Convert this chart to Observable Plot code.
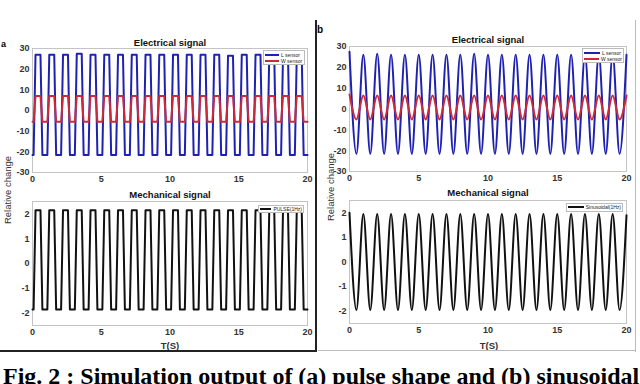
<!DOCTYPE html>
<html><head><meta charset="utf-8">
<script src="https://cdn.jsdelivr.net/npm/d3@7"></script>
<script src="https://cdn.jsdelivr.net/npm/@observablehq/plot@0.6"></script>
<style>
html,body{margin:0;padding:0;background:#fff;}
#root{position:relative;width:640px;height:384px;overflow:hidden;font-family:"Liberation Sans",Arial,sans-serif;}
.abs{position:absolute;}
.lg{position:absolute;background:#fff;border:1px solid #bbb;font-size:5px;line-height:6px;color:#222;padding:0 1px;box-sizing:border-box;}
.lg div{display:flex;align-items:center;white-space:nowrap;}
.lg span.sw{display:inline-block;height:2px;margin-right:2px;}
.ylab{position:absolute;font-size:9.5px;color:#333;transform:translate(-50%,-50%) rotate(-90deg);white-space:nowrap;}
.xlab{position:absolute;font-size:9.5px;color:#333;transform:translate(-50%,-50%);font-weight:bold;}
</style></head>
<body><div id="root"></div>
<script>
// ---- data ----
const xTicks = [0, 5, 10, 15, 20];
const yTicksElec = [-30, -20, -10, 0, 10, 20, 30];
const yTicksMech = [-2, -1, 0, 1, 2];
const cycleStart = [0,1,2,3,4,5,6,7,8,9,10,11,12,13,14,15,16,17,18,19];
// (a) pulse levels per cycle
const pulseLHigh = [27,27,27,27.5,27,27,27,27,27,27,27,27,27,27,26.5,27,27,27,27,27];
const pulseLLow  = [-21.5,-21.5,-21.5,-21.5,-21.5,-21.5,-21.5,-21.5,-21.5,-21.5,-21.5,-21.5,-21.5,-21.5,-21.5,-21.5,-21.5,-21.5,-21.5,-21.5];
const pulseWHigh = [7,7,7,7,7,7,7,7,7,7,7,7,7,7,7,7,7,7,7,7];
const pulseWLow  = [-5.5,-5.5,-5.5,-5.5,-5.5,-5.5,-5.5,-5.5,-5.5,-5.5,-5.5,-5.5,-5.5,-5.5,-5.5,-5.5,-5.5,-5.5,-5.5,-5.5];
const pulseMHigh = [2.15,2.15,2.15,2.15,2.15,2.15,2.15,2.15,2.15,2.15,2.15,2.15,2.15,2.15,2.15,2.15,2.15,2.15,2.15,2.15];
const pulseMLow  = [-1.85,-1.85,-1.85,-1.85,-1.85,-1.85,-1.85,-1.85,-1.85,-1.85,-1.85,-1.85,-1.85,-1.85,-1.85,-1.85,-1.85,-1.85,-1.85,-1.85];
// (b) sinusoid extremes
const peakT   = [0,1,2,3,4,5,6,7,8,9,10,11,12,13,14,15,16,17,18,19,20];
const troughT = [0.5,1.5,2.5,3.5,4.5,5.5,6.5,7.5,8.5,9.5,10.5,11.5,12.5,13.5,14.5,15.5,16.5,17.5,18.5,19.5];
const sinLPeak   = [27.5,26,26.5,26,26,26,26,26,26,26.5,26,26,26,26,26,26,26,26,26,26,26];
const sinLTrough = [-21.5,-21.5,-21.5,-21.5,-21.5,-21.5,-21.5,-21.5,-21.5,-21.5,-21.5,-21.5,-21.5,-21.5,-21.5,-21.5,-21.5,-21.5,-21.5,-21.5];
const sinWPeak   = [7,6.5,6.5,6.5,6.5,6.5,6.5,6.5,6.5,6.5,6.5,6.5,6.5,6.5,6.5,6.5,6.5,6.5,6.5,6.5,6.5];
const sinWTrough = [-5,-5,-5,-5,-5,-5,-5,-5,-5,-5,-5,-5,-5,-5,-5,-5,-5,-5,-5,-5];
const sinMPeak   = [2,1.95,1.95,1.95,1.95,1.95,1.95,1.95,1.95,1.95,1.95,1.95,1.95,1.95,1.95,1.95,1.95,1.95,1.95,1.95,1.9];
const sinMTrough = [-1.95,-1.95,-1.95,-1.95,-1.95,-1.95,-1.95,-1.95,-1.95,-1.95,-1.95,-1.95,-1.95,-1.95,-1.95,-1.95,-1.95,-1.95,-1.95,-1.95];

const BLUE = "#1f22b0", RED = "#cc2a3a", BLACK = "#111";
const tEnd = xTicks[xTicks.length - 1];

// pulse shape: rise / fall timing inside each 1 s cycle
const shape = [0.08, 0.22, 0.58, 0.72];
function pulse(high, low) {
  const rows = [{t: cycleStart[0], v: low[0]}];
  cycleStart.forEach((s, k) => {
    rows.push({t: s + shape[0], v: low[k]}, {t: s + shape[1], v: high[k]},
              {t: s + shape[2], v: high[k]}, {t: s + shape[3], v: low[k]});
  });
  rows.push({t: tEnd, v: low[low.length - 1]});
  return rows;
}
function sinus(peaks, troughs) {
  const rows = peakT.map((t, i) => ({t, v: peaks[i]})).concat(troughT.map((t, i) => ({t, v: troughs[i]})));
  return rows.sort((a, b) => a.t - b.t);
}

const root = document.getElementById("root");
function place(el, left, top) { el.style.position = "absolute"; el.style.left = left + "px"; el.style.top = top + "px"; root.appendChild(el); }
const fmt = d => String(d);

function subplot(o) {
  const marks = [Plot.frame({stroke: "#c4c4c4"})];
  o.series.forEach(s => marks.push(Plot.line(s.data, {x: "t", y: "v", stroke: s.color, strokeWidth: 2, curve: o.curve})));
  marks.push(Plot.text([o.title], {frameAnchor: "top", dy: o.titleDy, lineAnchor: "middle", fontWeight: "bold", fontSize: 9.5, fill: "#111"}));
  const p = Plot.plot({
    width: o.width, height: o.height,
    marginTop: o.mt, marginBottom: o.mb, marginLeft: o.ml, marginRight: o.mr,
    style: {fontFamily: '"Liberation Sans", Arial, sans-serif', fontSize: "9px", fontWeight: "bold", color: "#333", background: "transparent", overflow: "visible"},
    x: {domain: [0, tEnd], ticks: xTicks, tickSize: 0, tickPadding: 3, label: null, tickFormat: fmt},
    y: {domain: o.yDomain, ticks: o.yTicks, tickSize: 0, tickPadding: 3, label: null, tickFormat: fmt},
    marks
  });
  place(p, o.left, o.top);
}

// (a) top
subplot({left: 0, top: 30, width: 316, height: 160, mt: 18, mb: 18, ml: 32, mr: 9,
  yDomain: [-30, 30], yTicks: yTicksElec, curve: "linear", title: "Electrical signal", titleDy: -6,
  series: [{data: pulse(pulseLHigh, pulseLLow), color: BLUE}, {data: pulse(pulseWHigh, pulseWLow), color: RED}]});
// (a) bottom
subplot({left: 0, top: 185, width: 316, height: 160, mt: 16, mb: 20, ml: 32, mr: 9,
  yDomain: [-2.5, 2.5], yTicks: yTicksMech, curve: "linear", title: "Mechanical signal", titleDy: -7,
  series: [{data: pulse(pulseMHigh, pulseMLow), color: BLACK}]});
// (b) top
subplot({left: 318, top: 28, width: 322, height: 160, mt: 18, mb: 17, ml: 31, mr: 14,
  yDomain: [-30, 30], yTicks: yTicksElec, curve: "monotone-x", title: "Electrical signal", titleDy: -7,
  series: [{data: sinus(sinLPeak, sinLTrough), color: BLUE}, {data: sinus(sinWPeak, sinWTrough), color: RED}]});
// (b) bottom
subplot({left: 318, top: 184, width: 322, height: 160, mt: 16, mb: 21, ml: 31, mr: 14,
  yDomain: [-2.5, 2.5], yTicks: yTicksMech, curve: "monotone-x", title: "Mechanical signal", titleDy: -8,
  series: [{data: sinus(sinMPeak, sinMTrough), color: BLACK}]});

// overlays: legends, labels, borders
function div(html, cls, css) { const d = document.createElement("div"); d.className = cls || ""; d.innerHTML = html; Object.assign(d.style, css || {}); root.appendChild(d); return d; }
function legend(x, y, w, h, items) {
  const html = items.map(it => `<div><span class="sw" style="width:${it.sw}px;background:${it.color}"></span>${it.label}</div>`).join("");
  div(html, "lg", {left: x + "px", top: y + "px", width: w + "px", height: h + "px", paddingTop: (h > 10 ? "1px" : "0")});
}
legend(263, 50, 42, 15, [{label: "L sensor", color: BLUE, sw: 14}, {label: "W sensor", color: RED, sw: 14}]);
legend(582, 48, 42, 15, [{label: "L sensor", color: BLUE, sw: 16}, {label: "W sensor", color: RED, sw: 16}]);
legend(258, 205, 46, 8, [{label: "PULSE(1Hz)", color: BLACK, sw: 15}]);
legend(566, 203, 57, 9, [{label: "Sinusoidal(1Hz)", color: BLACK, sw: 18}]);

div("Relative change", "ylab", {left: "7px", top: "190px"});
div("Relative change", "ylab", {left: "330px", top: "187px"});
div("T(S)", "xlab", {left: "170px", top: "345px"});
div("T(S)", "xlab", {left: "489px", top: "345px"});
div("a", "abs", {left: "1px", top: "39px", fontSize: "9px", fontWeight: "bold"});
div("b", "abs", {left: "317px", top: "24px", fontSize: "10px", fontWeight: "bold"});

// panel borders
div("", "abs", {left: "315px", top: "20px", width: "1.5px", height: "332px", background: "#222"});
div("", "abs", {left: "0px", top: "350px", width: "316px", height: "1.5px", background: "#222"});
div("", "abs", {left: "635px", top: "20px", width: "1px", height: "332px", background: "#bbb"});
div("", "abs", {left: "318px", top: "350px", width: "318px", height: "1px", background: "#bbb"});

// caption (cut off by the bottom edge, as in the reference)
div("Fig. 2 : Simulation output of (a) pulse shape and (b) sinusoidal", "abs",
  {left: "3px", top: "364px", fontFamily: '"Liberation Serif","Times New Roman",serif', fontSize: "24px", lineHeight: "24px", fontWeight: "bold", whiteSpace: "nowrap", color: "#000"});
</script>
</body></html>
